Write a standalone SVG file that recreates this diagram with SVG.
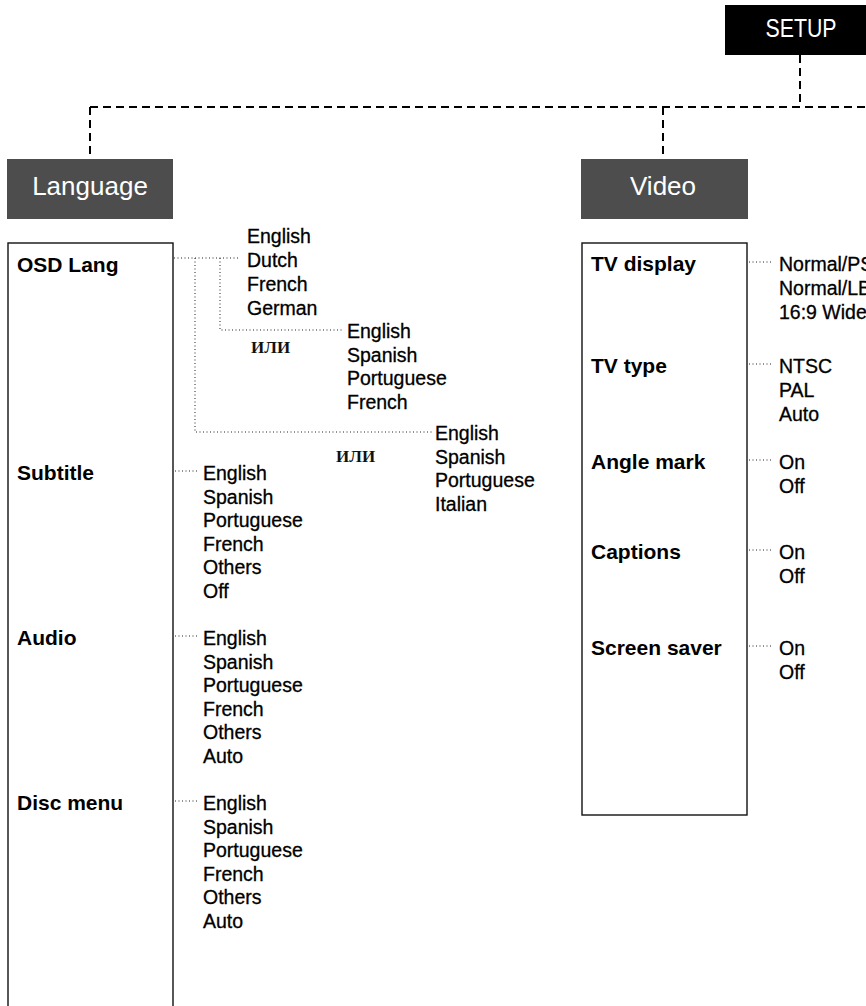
<svg xmlns="http://www.w3.org/2000/svg" width="866" height="1006" viewBox="0 0 866 1006">
<style>
.bg{fill:#fff}
.hdr{fill:#4d4d4d}
.top{fill:#000}
.ht{font-family:"Liberation Sans",Arial,sans-serif;font-size:26px;fill:#fff;text-anchor:middle}
.panel{fill:none;stroke:#111;stroke-width:1.4}
.lbl{font-family:"Liberation Sans",Arial,sans-serif;font-size:21px;font-weight:bold;fill:#000}
.opt{font-family:"Liberation Sans",Arial,sans-serif;font-size:19.5px;fill:#000;stroke:#000;stroke-width:0.3}
.dash{fill:none;stroke:#000;stroke-width:2;stroke-dasharray:8 5}
.dot{fill:none;stroke:#222;stroke-width:1;stroke-dasharray:1 2.5}
.ili{font-family:"Liberation Serif","Times New Roman",serif;font-size:17px;font-weight:bold;fill:#111}
</style>
<rect class="bg" x="0" y="0" width="866" height="1006"/>

<g id="connectors">
  <path class="dash" d="M800 55 V107"/>
  <path class="dash" d="M90 107 H866"/>
  <path class="dash" d="M90 107 V159"/>
  <path class="dash" d="M663 107 V159"/>
  <path class="dot" d="M174 258 H239"/>
  <path class="dot" d="M220 258 V330 H343"/>
  <path class="dot" d="M195 258 V432 H432"/>
  <path class="dot" d="M175 471 H198"/>
  <path class="dot" d="M175 636 H198"/>
  <path class="dot" d="M175 801 H198"/>
  <path class="dot" d="M749 262 H773"/>
  <path class="dot" d="M749 364 H773"/>
  <path class="dot" d="M749 460 H773"/>
  <path class="dot" d="M749 550 H773"/>
  <path class="dot" d="M749 646 H773"/>
</g>

<g id="setup">
  <rect class="top" x="725" y="5" width="160" height="50"/>
  <text class="ht" x="801" y="37" font-size="28" textLength="71" lengthAdjust="spacingAndGlyphs">SETUP</text>
</g>

<g id="language">
  <rect class="hdr" x="7" y="159" width="166" height="60"/>
  <text class="ht" x="90" y="195">Language</text>
</g>

<g id="video">
  <rect class="hdr" x="581" y="159" width="167" height="60"/>
  <text class="ht" x="663" y="195">Video</text>
</g>

<g id="language-panel">
  <rect class="panel" x="8" y="243" width="165" height="790"/>
  <text class="lbl" x="17" y="272">OSD Lang</text>
  <text class="lbl" x="17" y="480">Subtitle</text>
  <text class="lbl" x="17" y="645">Audio</text>
  <text class="lbl" x="17" y="810">Disc menu</text>
</g>

<g id="osd-options">
  <text class="opt" x="247" y="243"><tspan x="247">English</tspan><tspan x="247" dy="24">Dutch</tspan><tspan x="247" dy="24">French</tspan><tspan x="247" dy="24">German</tspan></text>
  <text class="ili" x="251" y="353">ИЛИ</text>
  <text class="opt" x="347" y="338"><tspan x="347">English</tspan><tspan x="347" dy="23.7">Spanish</tspan><tspan x="347" dy="23.7">Portuguese</tspan><tspan x="347" dy="23.7">French</tspan></text>
  <text class="ili" x="336" y="462">ИЛИ</text>
  <text class="opt" x="435" y="440"><tspan x="435">English</tspan><tspan x="435" dy="23.7">Spanish</tspan><tspan x="435" dy="23.7">Portuguese</tspan><tspan x="435" dy="23.7">Italian</tspan></text>
</g>

<g id="subtitle-options">
  <text class="opt" x="203" y="480"><tspan x="203">English</tspan><tspan x="203" dy="23.6">Spanish</tspan><tspan x="203" dy="23.6">Portuguese</tspan><tspan x="203" dy="23.6">French</tspan><tspan x="203" dy="23.6">Others</tspan><tspan x="203" dy="23.6">Off</tspan></text>
</g>

<g id="audio-options">
  <text class="opt" x="203" y="645"><tspan x="203">English</tspan><tspan x="203" dy="23.6">Spanish</tspan><tspan x="203" dy="23.6">Portuguese</tspan><tspan x="203" dy="23.6">French</tspan><tspan x="203" dy="23.6">Others</tspan><tspan x="203" dy="23.6">Auto</tspan></text>
</g>

<g id="disc-menu-options">
  <text class="opt" x="203" y="810"><tspan x="203">English</tspan><tspan x="203" dy="23.6">Spanish</tspan><tspan x="203" dy="23.6">Portuguese</tspan><tspan x="203" dy="23.6">French</tspan><tspan x="203" dy="23.6">Others</tspan><tspan x="203" dy="23.6">Auto</tspan></text>
</g>

<g id="video-panel">
  <rect class="panel" x="582" y="243" width="165" height="572"/>
  <text class="lbl" x="591" y="271">TV display</text>
  <text class="lbl" x="591" y="373">TV type</text>
  <text class="lbl" x="591" y="469">Angle mark</text>
  <text class="lbl" x="591" y="559">Captions</text>
  <text class="lbl" x="591" y="655">Screen saver</text>
</g>

<g id="video-options">
  <text class="opt" x="779" y="271"><tspan x="779">Normal/PS</tspan><tspan x="779" dy="24">Normal/LB</tspan><tspan x="779" dy="24">16:9 Wide</tspan></text>
  <text class="opt" x="779" y="373"><tspan x="779">NTSC</tspan><tspan x="779" dy="24">PAL</tspan><tspan x="779" dy="24">Auto</tspan></text>
  <text class="opt" x="779" y="469"><tspan x="779">On</tspan><tspan x="779" dy="24">Off</tspan></text>
  <text class="opt" x="779" y="559"><tspan x="779">On</tspan><tspan x="779" dy="24">Off</tspan></text>
  <text class="opt" x="779" y="655"><tspan x="779">On</tspan><tspan x="779" dy="24">Off</tspan></text>
</g>
</svg>
